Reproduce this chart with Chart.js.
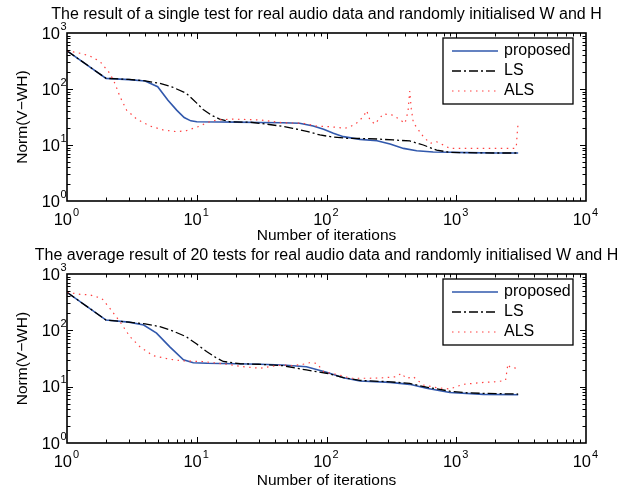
<!DOCTYPE html>
<html>
<head>
<meta charset="utf-8">
<script src="https://cdn.jsdelivr.net/npm/chart.js@4.4.1/dist/chart.umd.min.js"></script>
<style>
  html, body { margin: 0; padding: 0; background: #fff; }
  #wrap { position: relative; width: 634px; height: 491px; }
  canvas { position: absolute; left: 0; }
  #top { top: 0; }
  #bottom { top: 245px; }
</style>
</head>
<body>
<div id="wrap">
  <canvas id="top" width="634" height="245"></canvas>
  <canvas id="bottom" width="634" height="246"></canvas>
</div>
<script>
// single test
const proposedIter1 = [1, 2, 3, 4, 5, 6, 7, 8, 9, 10, 15, 20, 30, 46, 62, 79, 95, 113, 135, 181, 245, 309, 392, 495, 664, 900, 1200, 2000, 3000];
const proposedNorm1 = [480, 155, 147, 139, 110, 63, 42, 31, 27, 26, 25.8, 25.6, 25.3, 25, 24.4, 21.8, 19.1, 16.2, 14.1, 12.6, 11.9, 10.4, 8.7, 7.9, 7.5, 7.4, 7.3, 7.2, 7.2];
const lsIter1 = [1, 2, 3, 4, 5.2, 6.5, 8.3, 10, 11.2, 13, 15, 18, 26, 34, 46, 55, 72, 89, 107, 143, 200, 245, 327, 438, 557, 707, 893, 1200, 2000, 3000];
const lsNorm1 = [480, 155, 148, 140, 126, 108, 84, 56, 43, 34, 29, 26, 25.5, 23.7, 21.5, 19.9, 17.3, 15.1, 14.1, 13.2, 13.0, 12.8, 12.3, 11.8, 10, 8.1, 7.4, 7.3, 7.2, 7.2];
const alsIter1 = [1, 1.26, 1.5, 1.8, 2.14, 2.34, 2.56, 2.88, 3.44, 4.36, 5.5, 7, 8.3, 9.4, 10.6, 11.9, 14.3, 19, 30.7, 46, 66, 84, 107, 139, 152, 170, 192, 204, 216, 236, 274, 327, 370, 403, 425, 438, 450, 467, 500, 557, 630, 707, 796, 893, 1620, 2800, 2900, 2950, 3000];
const alsNorm1 = [480, 435, 390, 308, 190, 126, 73, 42, 29, 21.8, 18.6, 17.3, 18, 19.9, 21.8, 25, 28, 29, 28, 25, 24.4, 21.8, 21.2, 19.9, 21.2, 24.4, 32, 41, 28, 23.7, 36, 34, 28, 24.4, 40, 92, 45, 25, 20, 14.1, 10.7, 11.4, 10, 8.7, 8.7, 8.7, 9, 16, 25];

// average of 20 tests
const proposedIter2 = [1, 2, 3, 3.9, 4.9, 6.2, 7.9, 9.4, 12, 20, 30.7, 46, 70, 100, 135, 181, 309, 438, 590, 893, 1620, 3000];
const proposedNorm2 = [473, 152, 140, 124, 89, 51, 30, 26.6, 26, 25.5, 25, 24.3, 22.6, 18, 14.4, 12.6, 11.9, 11, 9.4, 7.9, 7.3, 7.2];
const lsIter2 = [1, 2, 3, 4, 5.2, 6.5, 8.3, 10, 11.9, 14, 16, 21.6, 30, 46, 70, 100, 135, 181, 309, 438, 590, 893, 1200, 1620, 3000];
const lsNorm2 = [473, 152, 140, 130, 116, 98, 77, 57, 42, 33, 28, 25.5, 25, 23.6, 19.8, 17.3, 14.5, 12.9, 12.2, 11.4, 9.8, 8.3, 7.8, 7.6, 7.4];
const alsIter2 = [1, 1.26, 1.5, 1.85, 2.14, 2.56, 3.06, 3.65, 4.6, 6.2, 7.9, 11, 17, 22.8, 30.7, 36, 46, 55, 66, 74, 84, 95, 126, 152, 216, 274, 347, 377, 412, 467, 557, 707, 893, 1125, 1620, 2100, 2400, 2500, 2600, 3000];
const alsNorm2 = [473, 436, 425, 371, 246, 142, 77, 51, 35.6, 30.6, 28.6, 28, 25, 22.6, 21.2, 22.6, 24.3, 23.6, 25, 26.6, 26, 18.5, 16.1, 14.1, 14.1, 14.4, 15, 17.3, 14, 15, 10.7, 9.6, 9.1, 11, 11.9, 12.3, 13, 25, 22, 21];

const seriesNames = ['proposed', 'LS', 'ALS'];
const xTicks = [1, 10, 100, 1000, 10000];
const yTicks = [1, 10, 100, 1000];

const FONT = "'Liberation Sans', Helvetica, Arial, sans-serif";
const styles = [
  { borderColor: '#3158ac', borderWidth: 1.6, borderDash: [], order: 3 },
  { borderColor: '#000000', borderWidth: 1.3, borderDash: [9, 3, 2, 3], order: 2 },
  { borderColor: '#ff4040', borderWidth: 1.2, borderDash: [1.5, 4.5], order: 1 }
];

function pts(xs, ys) {
  return xs.map((v, i) => ({ x: v, y: ys[i] }));
}

// box, inward ticks, power-of-ten labels, title over the axes and framed legend, the matlab way
const matlabAxes = {
  id: 'matlabAxes',
  afterDraw(chart, args, opts) {
    const ctx = chart.ctx;
    const a = chart.chartArea;
    const xs = chart.scales.x, ys = chart.scales.y;
    ctx.save();
    ctx.strokeStyle = '#000';
    ctx.lineWidth = 1;
    ctx.beginPath();
    for (let e = 0; e < 4; e++) {
      for (let m = 1; m <= 9; m++) {
        const v = m * Math.pow(10, e);
        const len = m === 1 ? 6 : 3.5;
        const px = Math.round(xs.getPixelForValue(v)) + 0.5;
        if (px > a.left + 1 && px < a.right - 1) {
          ctx.moveTo(px, a.bottom); ctx.lineTo(px, a.bottom - len);
          ctx.moveTo(px, a.top); ctx.lineTo(px, a.top + len);
        }
        if (e < 3) {
          const py = Math.round(ys.getPixelForValue(v)) + 0.5;
          if (py > a.top + 1 && py < a.bottom - 1) {
            ctx.moveTo(a.left, py); ctx.lineTo(a.left + len, py);
            ctx.moveTo(a.right, py); ctx.lineTo(a.right - len, py);
          }
        }
      }
    }
    ctx.stroke();
    ctx.lineWidth = 1.6;
    ctx.strokeRect(a.left, a.top, a.right - a.left, a.bottom - a.top);

    // title, centred on the axes box
    ctx.fillStyle = '#000';
    ctx.textBaseline = 'middle';
    ctx.textAlign = 'center';
    ctx.font = '16px ' + FONT;
    ctx.fillText(opts.text, (a.left + a.right) / 2, a.top - opts.gap);

    // tick labels 10^n
    const big = '16.5px ' + FONT, small = '11px ' + FONT;
    xTicks.forEach(v => {
      const px = xs.getPixelForValue(v);
      const yy = a.bottom + 19;
      ctx.font = big; ctx.textAlign = 'right';
      ctx.fillText('10', px + 5, yy);
      ctx.font = small; ctx.textAlign = 'left';
      ctx.fillText(String(Math.round(Math.log10(v))), px + 6, yy - 7.5);
    });
    yTicks.forEach(v => {
      const py = ys.getPixelForValue(v);
      ctx.font = big; ctx.textAlign = 'right';
      ctx.fillText('10', a.left - 7, py + 1);
      ctx.font = small; ctx.textAlign = 'left';
      ctx.fillText(String(Math.round(Math.log10(v))), a.left - 6.5, py - 6.5);
    });

    // legend
    const lx = a.right - 143, ly = a.top + 5, lw = 130, lh = 66;
    ctx.fillStyle = '#fff';
    ctx.fillRect(lx, ly, lw, lh);
    ctx.lineWidth = 1.3;
    ctx.strokeStyle = '#000';
    ctx.strokeRect(lx, ly, lw, lh);
    chart.data.datasets.forEach((ds, i) => {
      const yy = ly + 13 + i * 20;
      ctx.beginPath();
      ctx.strokeStyle = ds.borderColor;
      ctx.lineWidth = ds.borderWidth;
      ctx.setLineDash(ds.borderDash);
      ctx.moveTo(lx + 9, yy); ctx.lineTo(lx + 55, yy);
      ctx.stroke();
      ctx.setLineDash([]);
      ctx.fillStyle = '#000';
      ctx.font = '16px ' + FONT;
      ctx.textAlign = 'left';
      ctx.fillText(ds.label, lx + 61, yy);
    });
    ctx.restore();
  }
};

function makeChart(id, title, sets, t) {
  const ctx = document.getElementById(id).getContext('2d');
  return new Chart(ctx, {
    type: 'line',
    data: {
      datasets: sets.map((d, i) => Object.assign({
        label: seriesNames[i],
        data: d,
        fill: false,
        pointRadius: 0,
        tension: 0
      }, styles[i]))
    },
    options: {
      responsive: false,
      animation: false,
      layout: { padding: { right: 48, left: 0, top: t.top, bottom: 0 } },
      plugins: {
        legend: { display: false },
        tooltip: { enabled: false },
        title: { display: false },
        matlabAxes: { text: title, gap: t.gap }
      },
      scales: {
        x: {
          type: 'logarithmic',
          min: 1,
          max: 10000,
          grid: { display: false },
          border: { display: false },
          ticks: { display: false },
          title: {
            display: true,
            text: 'Number of iterations',
            color: '#000',
            font: { family: FONT, size: 15.5 },
            padding: { top: 0, bottom: t.xTitleBottom }
          },
          afterFit(s) { s.height = t.xHeight; }
        },
        y: {
          type: 'logarithmic',
          min: 1,
          max: 1000,
          grid: { display: false },
          border: { display: false },
          ticks: { display: false },
          title: {
            display: true,
            text: 'Norm(V\u2212WH)',
            color: '#000',
            font: { family: FONT, size: 15.5 },
            padding: { top: 13, bottom: 0 }
          },
          afterFit(s) { s.width = 67; }
        }
      }
    },
    plugins: [matlabAxes]
  });
}

makeChart('top',
  'The result of a single test for real audio data and randomly initialised W and H',
  [pts(proposedIter1, proposedNorm1), pts(lsIter1, lsNorm1), pts(alsIter1, alsNorm1)],
  { top: 33, gap: 18, xHeight: 44, xTitleBottom: 0 });

makeChart('bottom',
  'The average result of 20 tests for real audio data and randomly initialised W and H',
  [pts(proposedIter2, proposedNorm2), pts(lsIter2, lsNorm2), pts(alsIter2, alsNorm2)],
  { top: 29, gap: 18, xHeight: 48, xTitleBottom: 0.7 });
</script>
</body>
</html>
